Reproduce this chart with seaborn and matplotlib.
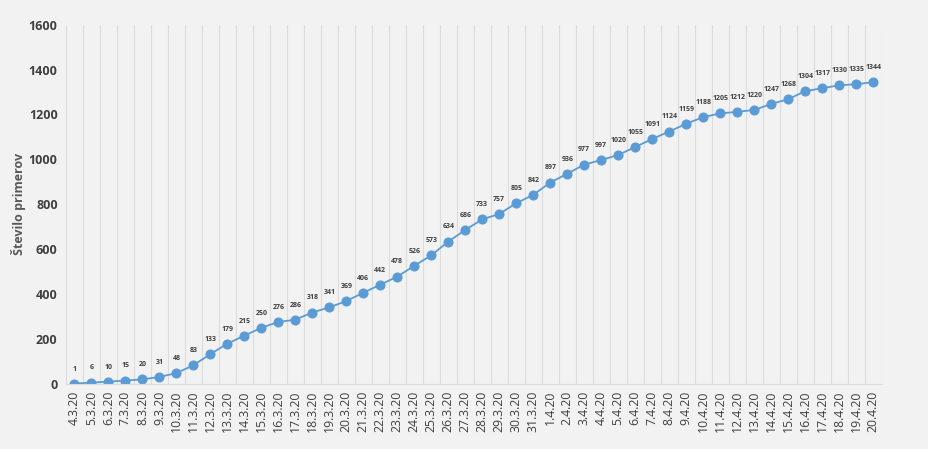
import matplotlib
matplotlib.use("Agg")
import matplotlib.pyplot as plt
import seaborn as sns
import pandas as pd

# Dates and cumulative cases
dates = ["4.3.20", "5.3.20", "6.3.20", "7.3.20", "8.3.20", "9.3.20", "10.3.20", "11.3.20",
         "12.3.20", "13.3.20", "14.3.20", "15.3.20", "16.3.20", "17.3.20", "18.3.20", "19.3.20",
         "20.3.20", "21.3.20", "22.3.20", "23.3.20", "24.3.20", "25.3.20", "26.3.20", "27.3.20",
         "28.3.20", "29.3.20", "30.3.20", "31.3.20", "1.4.20", "2.4.20", "3.4.20", "4.4.20",
         "5.4.20", "6.4.20", "7.4.20", "8.4.20", "9.4.20", "10.4.20", "11.4.20", "12.4.20",
         "13.4.20", "14.4.20", "15.4.20", "16.4.20", "17.4.20", "18.4.20", "19.4.20", "20.4.20"]
cases = [1, 6, 10, 15, 20, 31, 48, 83, 133, 179, 215, 250, 276, 286, 318, 341, 369, 406,
         442, 478, 526, 573, 634, 686, 733, 757, 805, 842, 897, 936, 977, 997, 1020, 1055,
         1091, 1124, 1159, 1188, 1205, 1212, 1220, 1247, 1268, 1304, 1317, 1330, 1335, 1344]

df = pd.DataFrame({"datum": dates, "primeri": cases})
df["pos"] = range(len(df))

sns.set_style("white")
plt.rcParams["font.family"] = ["Open Sans", "DejaVu Sans"]

bg = "#f2f2f2"
fig = plt.figure(figsize=(9.29, 4.49), dpi=100, facecolor=bg)
ax = fig.add_axes([0.071, 0.145, 0.878, 0.8])
ax.set_facecolor(bg)

sns.lineplot(data=df, x="pos", y="primeri", ax=ax, color="#5b9bd5", linewidth=1.3,
             marker="o", markersize=6.5, markeredgecolor="#5b9bd5")

for x, y in zip(df["pos"], df["primeri"]):
    ax.annotate(str(y), (x, y), xytext=(0, 8), textcoords="offset points",
                ha="center", va="bottom", fontsize=5, fontweight="bold", color="#404040")

n = len(dates)
ax.set_xlim(-0.5, n - 0.5)
ax.set_ylim(0, 1600)
ax.set_yticks(range(0, 1601, 200))
ax.set_xticks(range(n))
ax.set_xticklabels(dates, rotation=90, fontsize=8.8, color="#404040")
ax.tick_params(axis="y", labelsize=9, labelcolor="#404040", length=0, pad=6)
ax.tick_params(axis="x", length=0, pad=5)
for lbl in ax.get_yticklabels():
    lbl.set_fontweight("bold")

for b in range(n + 1):
    ax.axvline(b - 0.5, color="#dcdcdc", linewidth=0.8, zorder=0)

for s in ["top", "right", "left"]:
    ax.spines[s].set_visible(False)
ax.spines["bottom"].set_color("#dcdcdc")

ax.set_xlabel("")
ax.set_ylabel("Število primerov", fontsize=9, fontweight="bold", color="#595959")
ax.yaxis.set_label_coords(-0.049, 0.5)

fig.savefig("out.png", dpi=100, facecolor=bg)
